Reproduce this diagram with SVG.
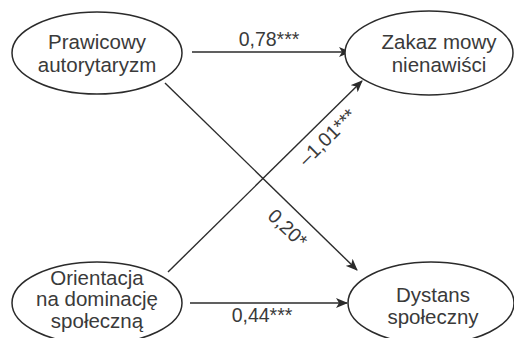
<svg xmlns="http://www.w3.org/2000/svg" width="514" height="338" viewBox="0 0 514 338">
<defs>
<style>
.node{fill:#fff;stroke:#2b2b2b;stroke-width:1.5}
.t{font-family:"Liberation Sans",Arial,sans-serif;font-size:20.5px;fill:#3a3a3a;text-anchor:middle}
.lbl{font-family:"Liberation Sans",Arial,sans-serif;font-size:19.5px;fill:#3a3a3a;text-anchor:middle}
.edge{stroke:#2b2b2b;stroke-width:1.4;fill:none;marker-end:url(#ah)}
</style>
<marker id="ah" viewBox="0 0 12 10" refX="11" refY="5" markerWidth="12" markerHeight="10" markerUnits="userSpaceOnUse" orient="auto">
<path d="M0,0 L12,5 L0,10 L3,5 Z" fill="#2b2b2b"/>
</marker>
</defs>
<rect width="514" height="338" fill="#fff"/>
<g id="connectors">
<line class="edge" x1="192" y1="52" x2="350" y2="52"/>
<line class="edge" x1="165" y1="83" x2="357" y2="270"/>
<line class="edge" x1="168" y1="272" x2="362" y2="81"/>
<line class="edge" x1="190" y1="303" x2="347" y2="303"/>
<text class="lbl" x="269" y="46">0,78***</text>
<text class="lbl" x="262" y="322">0,44***</text>
<text class="lbl" transform="translate(332,142) rotate(-44.5)">–1,01***</text>
<text class="lbl" transform="translate(283,233) rotate(44)">0,20*</text>
</g>
<g id="pa">
<ellipse class="node" cx="97" cy="53" rx="85" ry="41"/>
<text class="t" x="97" y="49">Prawicowy</text>
<text class="t" x="97" y="72">autorytaryzm</text>
</g>
<g id="zmn">
<ellipse class="node" cx="429" cy="53" rx="84" ry="42"/>
<text class="t" x="439" y="49">Zakaz mowy</text>
<text class="t" x="439" y="72">nienawiści</text>
</g>
<g id="ods">
<ellipse class="node" cx="97" cy="303" rx="85" ry="41"/>
<text class="t" x="97" y="285">Orientacja</text>
<text class="t" x="97" y="306">na dominację</text>
<text class="t" x="97" y="328">społeczną</text>
</g>
<g id="ds">
<ellipse class="node" cx="431" cy="303" rx="83" ry="41"/>
<text class="t" x="433" y="302">Dystans</text>
<text class="t" x="433" y="324">społeczny</text>
</g>
</svg>
